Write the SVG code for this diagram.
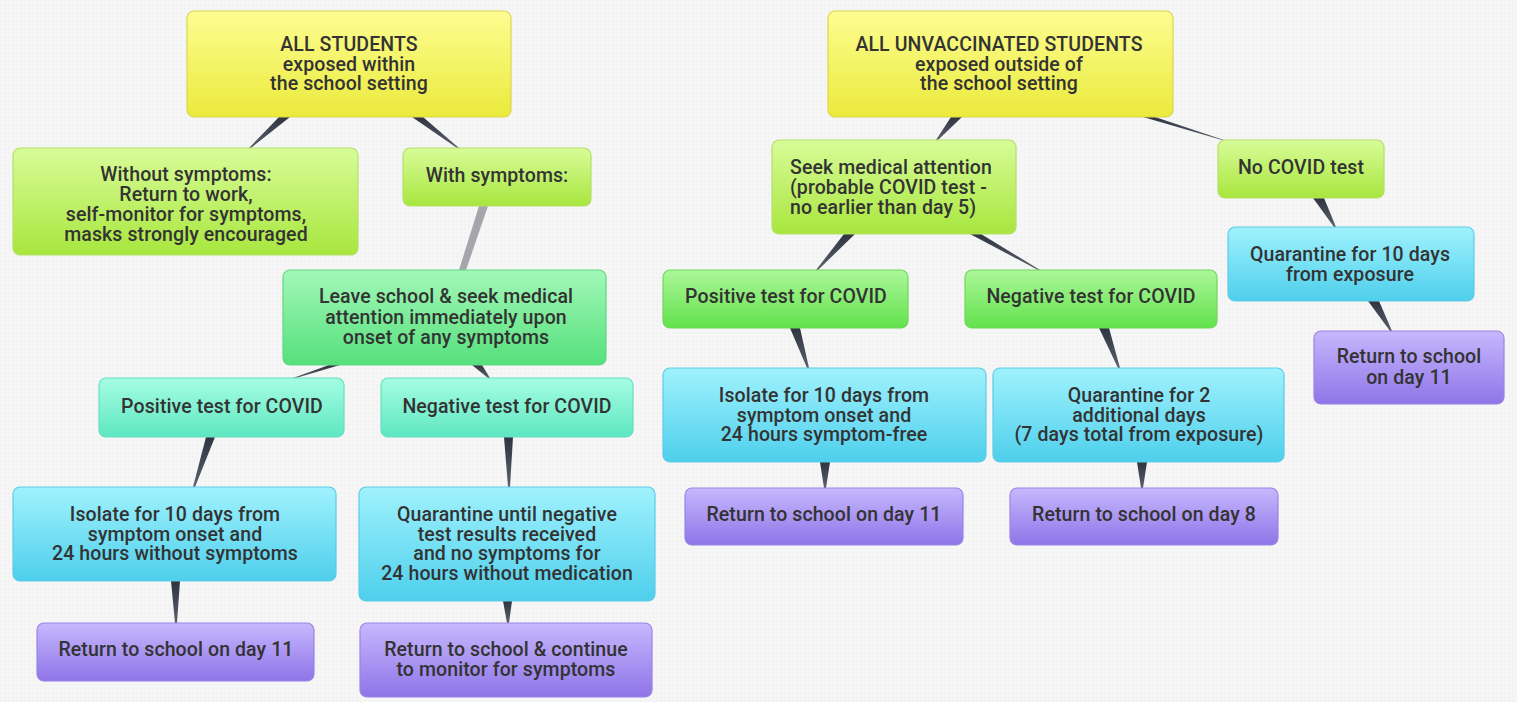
<svg xmlns="http://www.w3.org/2000/svg" width="1517" height="702" viewBox="0 0 1517 702">
<defs>
<pattern id="dots" width="4" height="4" patternUnits="userSpaceOnUse"><rect width="4" height="4" fill="#f6f6f6"/><circle cx="1" cy="1" r="0.6" fill="#e6e6e6"/></pattern>
<linearGradient id="gY" x1="0" y1="0" x2="0" y2="1"><stop offset="0" stop-color="#fdfd92"/><stop offset="1" stop-color="#ebea3c"/></linearGradient>
<linearGradient id="gL" x1="0" y1="0" x2="0" y2="1"><stop offset="0" stop-color="#d8fc98"/><stop offset="1" stop-color="#a8e63e"/></linearGradient>
<linearGradient id="gG" x1="0" y1="0" x2="0" y2="1"><stop offset="0" stop-color="#a3f8b8"/><stop offset="1" stop-color="#55e07c"/></linearGradient>
<linearGradient id="gG2" x1="0" y1="0" x2="0" y2="1"><stop offset="0" stop-color="#acf79a"/><stop offset="1" stop-color="#62e24c"/></linearGradient>
<linearGradient id="gT" x1="0" y1="0" x2="0" y2="1"><stop offset="0" stop-color="#a6fde2"/><stop offset="1" stop-color="#5ee7c2"/></linearGradient>
<linearGradient id="gC" x1="0" y1="0" x2="0" y2="1"><stop offset="0" stop-color="#a0f2fd"/><stop offset="1" stop-color="#4ecfec"/></linearGradient>
<linearGradient id="gP" x1="0" y1="0" x2="0" y2="1"><stop offset="0" stop-color="#c6b8fd"/><stop offset="1" stop-color="#8f74e8"/></linearGradient>
<linearGradient id="gW" x1="0" y1="0" x2="0" y2="1"><stop offset="0" stop-color="#2e3440"/><stop offset="1" stop-color="#5a606c"/></linearGradient>
</defs>
<style>
text{font-family:Roboto,"Liberation Sans",sans-serif;font-size:19.5px;letter-spacing:0.1px;font-weight:500;fill:#333;text-anchor:middle}
.b{stroke-width:1.2}
.y{fill:url(#gY);stroke:#dcd64c}
.l{fill:url(#gL);stroke:#b4df6a}
.g{fill:url(#gG);stroke:#5fd882}
.g2{fill:url(#gG2);stroke:#6ed85a}
.t{fill:url(#gT);stroke:#66dfc0}
.c{fill:url(#gC);stroke:#5ccbe6}
.p{fill:url(#gP);stroke:#9a84e6}
.w{fill:url(#gW)}
.wg{fill:#a4a6ab}
</style>
<rect width="1517" height="702" fill="url(#dots)"/>
<g id="connectors">
<polygon class="w" points="279,117 290,117 251,148 249,148"/>
<polygon class="w" points="412,117 423,117 459,148 457,148"/>
<polygon class="wg" points="479,206 488,206 466,270 459,270"/>
<polygon class="w" points="329,365 340,365 296,378 293,378"/>
<polygon class="w" points="472,365 482,365 490,378 488,378"/>
<polygon class="w" points="206,437 215,437 195,487 193,487"/>
<polygon class="w" points="504,437 513,437 510,487 508,487"/>
<polygon class="w" points="171,581 180,581 177,623 175,623"/>
<polygon class="w" points="503,601 512,601 509,623 507,623"/>
<polygon class="w" points="951,117 962,117 938,140 936,140"/>
<polygon class="w" points="1143,117 1155,117 1224,140 1222,140"/>
<polygon class="w" points="844,234 855,234 818,270 816,270"/>
<polygon class="w" points="970,234 981,234 1040,270 1038,270"/>
<polygon class="w" points="1313,198 1324,198 1336,227 1334,227"/>
<polygon class="w" points="1368,301 1379,301 1392,331 1390,331"/>
<polygon class="w" points="790,328 800,328 809,368 807,368"/>
<polygon class="w" points="1099,328 1109,328 1120,368 1118,368"/>
<polygon class="w" points="820,462 830,462 826,488 824,488"/>
<polygon class="w" points="1137,462 1147,462 1143,488 1141,488"/>
</g>
<g id="n_all_students"><rect class="b y" x="187" y="11" width="324" height="106" rx="7"/><text x="349" y="51">ALL STUDENTS<tspan x="349" dy="19.5">exposed within</tspan><tspan x="349" dy="19.5">the school setting</tspan></text></g>
<g id="n_without"><rect class="b l" x="13" y="148" width="345" height="107" rx="7"/><text x="186" y="181">Without symptoms:<tspan x="186" dy="20">Return to work,</tspan><tspan x="186" dy="20">self-monitor for symptoms,</tspan><tspan x="186" dy="20">masks strongly encouraged</tspan></text></g>
<g id="n_with"><rect class="b l" x="403" y="148" width="188" height="58" rx="7"/><text x="497" y="182">With symptoms:</text></g>
<g id="n_leave"><rect class="b g" x="283" y="270" width="323" height="95" rx="7"/><text x="446" y="303">Leave school &amp; seek medical<tspan x="446" dy="20.5">attention immediately upon</tspan><tspan x="446" dy="20.5">onset of any symptoms</tspan></text></g>
<g id="n_pos_l"><rect class="b t" x="99" y="378" width="245" height="59" rx="7"/><text x="222" y="413">Positive test for COVID</text></g>
<g id="n_neg_l"><rect class="b t" x="381" y="378" width="252" height="59" rx="7"/><text x="507" y="413">Negative test for COVID</text></g>
<g id="n_iso_l"><rect class="b c" x="13" y="487" width="323" height="94" rx="7"/><text x="175" y="521">Isolate for 10 days from<tspan x="175" dy="19.5">symptom onset and</tspan><tspan x="175" dy="19.5">24 hours without symptoms</tspan></text></g>
<g id="n_quar_l"><rect class="b c" x="359" y="487" width="296" height="114" rx="7"/><text x="507" y="521">Quarantine until negative<tspan x="507" dy="19.7">test results received</tspan><tspan x="507" dy="19.7">and no symptoms for</tspan><tspan x="507" dy="19.7">24 hours without medication</tspan></text></g>
<g id="n_ret_l1"><rect class="b p" x="37" y="623" width="277" height="58" rx="7"/><text x="176" y="656">Return to school on day 11</text></g>
<g id="n_ret_l2"><rect class="b p" x="360" y="623" width="292" height="74" rx="7"/><text x="506" y="656">Return to school &amp; continue<tspan x="506" dy="20">to monitor for symptoms</tspan></text></g>
<g id="n_unvacc"><rect class="b y" x="828" y="11" width="345" height="106" rx="7"/><text x="999" y="51">ALL UNVACCINATED STUDENTS<tspan x="999" dy="19.5">exposed outside of</tspan><tspan x="999" dy="19.5">the school setting</tspan></text></g>
<g id="n_seek"><rect class="b l" x="772" y="140" width="244" height="94" rx="7"/><text x="790" y="174" style="text-anchor:start">Seek medical attention<tspan x="790" dy="20">(probable COVID test -</tspan><tspan x="790" dy="20">no earlier than day 5)</tspan></text></g>
<g id="n_nocovid"><rect class="b l" x="1218" y="140" width="166" height="58" rx="7"/><text x="1301" y="174">No COVID test</text></g>
<g id="n_pos_r"><rect class="b g2" x="663" y="270" width="245" height="58" rx="7"/><text x="786" y="303">Positive test for COVID</text></g>
<g id="n_neg_r"><rect class="b g2" x="965" y="270" width="252" height="58" rx="7"/><text x="1091" y="303">Negative test for COVID</text></g>
<g id="n_quar10"><rect class="b c" x="1228" y="227" width="246" height="74" rx="7"/><text x="1350" y="261">Quarantine for 10 days<tspan x="1350" dy="19.5">from exposure</tspan></text></g>
<g id="n_ret_r11a"><rect class="b p" x="1314" y="331" width="190" height="73" rx="7"/><text x="1409" y="363">Return to school<tspan x="1409" dy="20.5">on day 11</tspan></text></g>
<g id="n_iso_r"><rect class="b c" x="663" y="368" width="323" height="94" rx="7"/><text x="824" y="402">Isolate for 10 days from<tspan x="824" dy="19.5">symptom onset and</tspan><tspan x="824" dy="19.5">24 hours symptom-free</tspan></text></g>
<g id="n_quar2"><rect class="b c" x="993" y="368" width="291" height="94" rx="7"/><text x="1139" y="402">Quarantine for 2<tspan x="1139" dy="19.5">additional days</tspan><tspan x="1139" dy="19.5">(7 days total from exposure)</tspan></text></g>
<g id="n_ret_r11b"><rect class="b p" x="685" y="488" width="278" height="57" rx="7"/><text x="824" y="521">Return to school on day 11</text></g>
<g id="n_ret_r8"><rect class="b p" x="1010" y="488" width="268" height="57" rx="7"/><text x="1144" y="521">Return to school on day 8</text></g>
</svg>
